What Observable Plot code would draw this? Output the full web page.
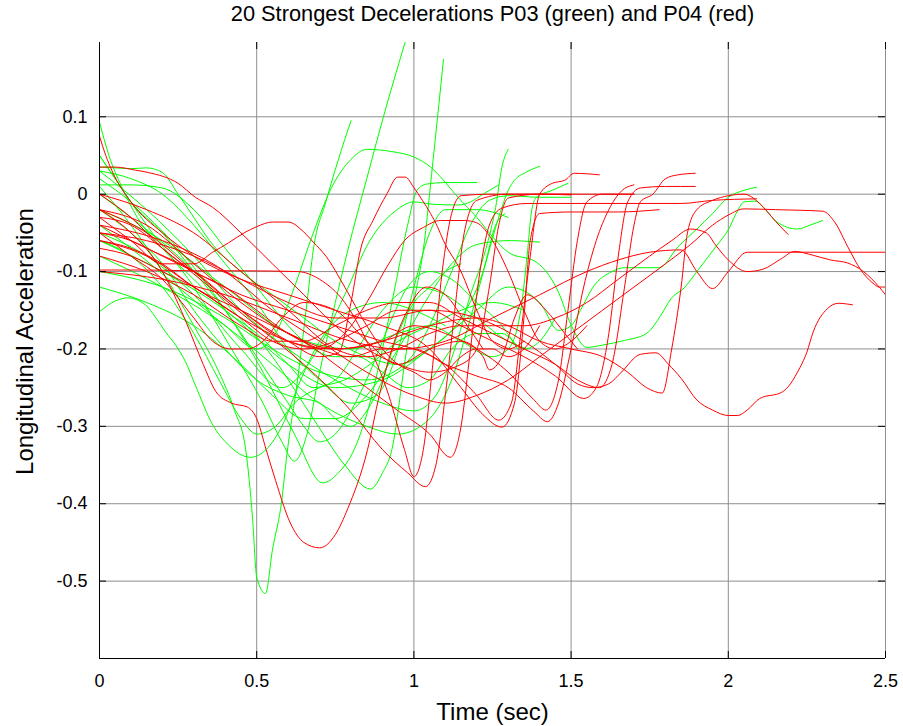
<!DOCTYPE html>
<html><head><meta charset="utf-8">
<script src="https://cdn.jsdelivr.net/npm/d3@7"></script>
<script src="https://cdn.jsdelivr.net/npm/@observablehq/plot@0.6"></script>
<style>body{margin:0;background:#fff}svg{display:block}</style>
</head><body><div id="chart"></div>
<script>
const title = "20 Strongest Decelerations P03 (green) and P04 (red)";
const xLabel = "Time (sec)";
const yLabel = "Longitudinal Acceleration";
const xTicks = [0, 0.5, 1, 1.5, 2, 2.5];
const yTicks = [0.1, 0, -0.1, -0.2, -0.3, -0.4, -0.5];
const xDomain = [0, 2.5];
const yDomain = [-0.6, 0.196];

// P03 (green) decelerations: [time, acceleration]
const g01 = [[0,0.01],[0.1,-0.04],[0.2,-0.1],[0.3,-0.17],[0.38,-0.23],[0.43,-0.28],[0.465,-0.33],[0.487,-0.42],[0.5,-0.495],[0.528,-0.516],[0.55,-0.46],[0.58,-0.395],[0.595,-0.34],[0.63,-0.24],[0.66,-0.14],[0.68,-0.072],[0.72,-0.01],[0.76,0.045],[0.8,0.095]];
const g02 = [[0,0.05],[0.05,0.02],[0.15,-0.04],[0.3,-0.12],[0.42,-0.2],[0.52,-0.27],[0.58,-0.32],[0.62,-0.345],[0.66,-0.31],[0.7,-0.23],[0.75,-0.14],[0.79,-0.072],[0.85,0.02],[0.91,0.11],[0.975,0.2],[0.99,0.22]];
const g03 = [[0,0.0],[0.1,-0.03],[0.25,-0.08],[0.4,-0.14],[0.55,-0.21],[0.68,-0.29],[0.78,-0.35],[0.862,-0.381],[0.9,-0.36],[0.93,-0.33],[0.97,-0.22],[1.0,-0.14],[1.03,-0.072],[1.06,0.04],[1.094,0.174]];
const g04 = [[0,-0.04],[0.1,-0.07],[0.25,-0.12],[0.4,-0.17],[0.5,-0.2],[0.56,-0.18],[0.62,-0.12],[0.68,-0.05],[0.74,0.01],[0.8,0.045],[0.85,0.058],[0.93,0.055],[1.0,0.048],[1.053,0.035],[1.094,0.018],[1.14,-0.004],[1.2,-0.03],[1.25,-0.055],[1.3,-0.075],[1.39,-0.088],[1.43,-0.105],[1.46,-0.127],[1.5,-0.169],[1.55,-0.198],[1.6,-0.195],[1.67,-0.189],[1.74,-0.18],[1.78,-0.16],[1.82,-0.134],[1.86,-0.121],[1.9,-0.1],[1.96,-0.068],[2.0,-0.046],[2.03,-0.021],[2.05,-0.01],[2.085,-0.009],[2.12,-0.021],[2.155,-0.036],[2.22,-0.045],[2.26,-0.04],[2.3,-0.034]];
const g05 = [[0,-0.06],[0.2,-0.1],[0.4,-0.15],[0.6,-0.22],[0.75,-0.25],[0.9,-0.24],[1.05,-0.2],[1.2,-0.15],[1.3,-0.12],[1.4,-0.14],[1.46,-0.176],[1.5,-0.17],[1.53,-0.15],[1.57,-0.12],[1.63,-0.1],[1.67,-0.095],[1.78,-0.095],[1.84,-0.068],[1.9,-0.045],[1.95,-0.025],[2.0,-0.004],[2.05,0.005],[2.09,0.009]];
const g06 = [[0,0.03],[0.15,-0.02],[0.3,-0.08],[0.45,-0.15],[0.6,-0.2],[0.75,-0.24],[0.9,-0.27],[1.0,-0.28],[1.07,-0.26],[1.13,-0.2],[1.18,-0.13],[1.228,-0.072],[1.26,-0.017],[1.28,0.035],[1.3,0.058]];
const g07 = [[0,-0.08],[0.2,-0.12],[0.4,-0.17],[0.55,-0.22],[0.7,-0.27],[0.85,-0.3],[0.95,-0.31],[1.05,-0.29],[1.12,-0.24],[1.18,-0.16],[1.24,-0.072],[1.26,-0.043],[1.28,-0.017],[1.3,0.005],[1.32,0.018],[1.355,0.028],[1.4,0.036]];
const g08 = [[0,-0.1],[0.2,-0.12],[0.4,-0.16],[0.55,-0.2],[0.7,-0.23],[0.85,-0.24],[0.97,-0.22],[1.05,-0.17],[1.12,-0.1],[1.18,-0.04],[1.24,-0.008],[1.3,-0.002],[1.4,-0.004],[1.5,-0.004]];
const g09 = [[0,-0.02],[0.2,-0.06],[0.4,-0.12],[0.6,-0.18],[0.8,-0.2],[0.95,-0.18],[1.05,-0.17],[1.15,-0.19],[1.25,-0.21],[1.3,-0.2],[1.34,-0.15],[1.36,-0.08],[1.375,-0.02],[1.39,-0.004],[1.44,0.005],[1.49,0.014]];
const g10 = [[0,0.02],[0.1,-0.01],[0.25,-0.07],[0.4,-0.15],[0.52,-0.23],[0.62,-0.31],[0.71,-0.373],[0.76,-0.36],[0.81,-0.33],[0.86,-0.27],[0.9,-0.2],[0.94,-0.12],[0.98,-0.04],[1.01,0.005],[1.04,0.013],[1.1,0.015],[1.2,0.015]];
const g11 = [[0,-0.05],[0.15,-0.08],[0.3,-0.13],[0.45,-0.2],[0.58,-0.25],[0.68,-0.21],[0.78,-0.13],[0.86,-0.06],[0.94,-0.022],[1.0,-0.01],[1.06,-0.013],[1.14,-0.014],[1.18,-0.01],[1.22,0.0],[1.27,0.012]];
const g12 = [[0,-0.12],[0.15,-0.14],[0.3,-0.17],[0.45,-0.22],[0.55,-0.26],[0.65,-0.29],[0.75,-0.29],[0.85,-0.26],[0.95,-0.2],[1.05,-0.13],[1.12,-0.09],[1.2,-0.065],[1.3,-0.06],[1.4,-0.062]];
const g13 = [[0,0.093],[0.03,0.05],[0.07,0.01],[0.12,-0.03],[0.2,-0.07],[0.3,-0.11],[0.4,-0.15],[0.5,-0.18],[0.6,-0.22],[0.68,-0.25],[0.75,-0.24],[0.82,-0.2],[0.9,-0.15],[1.0,-0.12],[1.1,-0.13],[1.2,-0.16],[1.3,-0.19],[1.36,-0.2]];
const g14 = [[0,-0.152],[0.05,-0.138],[0.09,-0.134],[0.146,-0.143],[0.178,-0.159],[0.21,-0.178],[0.242,-0.195],[0.274,-0.217],[0.305,-0.247],[0.36,-0.298],[0.41,-0.324],[0.48,-0.34],[0.53,-0.33],[0.58,-0.3],[0.64,-0.24],[0.7,-0.19],[0.8,-0.15],[0.9,-0.14],[1.0,-0.15],[1.1,-0.17]];
const g15 = [[0,0.03],[0.1,0.02],[0.2,0.0],[0.3,-0.04],[0.4,-0.09],[0.5,-0.14],[0.6,-0.2],[0.7,-0.24],[0.8,-0.27],[0.88,-0.26],[0.95,-0.2],[1.0,-0.12],[1.05,-0.05],[1.1,-0.02],[1.2,-0.02],[1.3,-0.03]];
const g16 = [[0,0.035],[0.05,0.034],[0.1,0.033],[0.15,0.034],[0.2,0.028],[0.25,0.0],[0.3,-0.03],[0.35,-0.06],[0.45,-0.1],[0.55,-0.13],[0.65,-0.16],[0.75,-0.19],[0.85,-0.21],[0.95,-0.22],[1.05,-0.2],[1.15,-0.16],[1.22,-0.1],[1.26,-0.04],[1.29,-0.025]];
const g17 = [[0,0.012],[0.1,0.012],[0.2,0.008],[0.3,-0.02],[0.4,-0.07],[0.5,-0.12],[0.6,-0.17],[0.68,-0.2],[0.75,-0.21],[0.82,-0.21],[0.9,-0.23],[0.98,-0.25],[1.05,-0.24],[1.12,-0.2],[1.2,-0.18],[1.28,-0.18],[1.35,-0.2],[1.4,-0.19],[1.45,-0.16]];
const g18 = [[0,-0.02],[0.1,-0.05],[0.2,-0.09],[0.3,-0.15],[0.4,-0.2],[0.5,-0.24],[0.6,-0.26],[0.7,-0.27],[0.75,-0.29],[0.8,-0.3],[0.85,-0.28],[0.9,-0.24],[0.95,-0.18],[1.0,-0.14],[1.05,-0.12],[1.1,-0.1],[1.15,-0.09]];
const g19 = [[0,-0.06],[0.1,-0.08],[0.2,-0.12],[0.3,-0.18],[0.38,-0.24],[0.45,-0.29],[0.5,-0.31],[0.56,-0.3],[0.62,-0.27],[0.7,-0.25],[0.78,-0.24],[0.86,-0.22],[0.95,-0.19],[1.05,-0.17],[1.15,-0.15],[1.25,-0.14],[1.35,-0.15]];
const g20 = [[0,0.05],[0.05,0.02],[0.1,-0.01],[0.2,-0.05],[0.3,-0.1],[0.4,-0.15],[0.5,-0.21],[0.6,-0.27],[0.65,-0.3],[0.7,-0.32],[0.75,-0.31],[0.8,-0.28],[0.86,-0.23],[0.92,-0.17],[0.98,-0.12],[1.05,-0.1],[1.12,-0.11],[1.2,-0.14],[1.28,-0.17],[1.33,-0.2]];

// P04 (red) decelerations: [time, acceleration]
const r01 = [[0,-0.02],[0.1,-0.05],[0.2,-0.1],[0.27,-0.16],[0.33,-0.22],[0.37,-0.255],[0.42,-0.27],[0.47,-0.275],[0.5,-0.29],[0.53,-0.33],[0.56,-0.37],[0.607,-0.425],[0.65,-0.45],[0.7,-0.457],[0.75,-0.44],[0.79,-0.406],[0.852,-0.331],[0.89,-0.26],[0.93,-0.2],[0.98,-0.15],[1.04,-0.12],[1.1,-0.13],[1.17,-0.17],[1.22,-0.2]];
const r02 = [[0,-0.098],[0.15,-0.098],[0.3,-0.099],[0.45,-0.099],[0.63,-0.1],[0.7,-0.11],[0.78,-0.14],[0.85,-0.19],[0.92,-0.26],[0.97,-0.33],[1.0,-0.365],[1.03,-0.33],[1.06,-0.22],[1.09,-0.1],[1.12,-0.025],[1.15,-0.002],[1.25,0.0],[1.4,0.0],[1.5,-0.001]];
const r03 = [[0,-0.03],[0.1,-0.04],[0.2,-0.07],[0.35,-0.12],[0.5,-0.17],[0.65,-0.22],[0.8,-0.28],[0.9,-0.33],[0.98,-0.36],[1.037,-0.378],[1.07,-0.35],[1.1,-0.26],[1.13,-0.15],[1.16,-0.05],[1.2,-0.008],[1.3,0.0],[1.45,0.0],[1.6,0.0],[1.7,0.0]];
const r04 = [[0,-0.06],[0.1,-0.07],[0.2,-0.09],[0.3,-0.12],[0.45,-0.15],[0.55,-0.17],[0.65,-0.19],[0.75,-0.22],[0.85,-0.25],[0.95,-0.28],[1.05,-0.31],[1.116,-0.34],[1.15,-0.3],[1.18,-0.2],[1.21,-0.1],[1.24,-0.04],[1.28,-0.018],[1.36,-0.012],[1.5,-0.012],[1.7,-0.012],[1.85,-0.012],[1.95,-0.008],[2.09,-0.006]];
const r05 = [[0,-0.05],[0.1,-0.06],[0.2,-0.08],[0.3,-0.1],[0.45,-0.13],[0.6,-0.15],[0.75,-0.17],[0.9,-0.19],[1.0,-0.2],[1.1,-0.22],[1.2,-0.26],[1.27,-0.292],[1.31,-0.27],[1.34,-0.18],[1.37,-0.08],[1.4,0.0],[1.44,0.014],[1.48,0.018],[1.51,0.027],[1.59,0.025]];
const r06 = [[0,0.075],[0.02,0.05],[0.04,0.03],[0.1,-0.01],[0.2,-0.05],[0.3,-0.08],[0.45,-0.11],[0.6,-0.13],[0.75,-0.15],[0.9,-0.17],[1.05,-0.2],[1.15,-0.25],[1.22,-0.285],[1.28,-0.301],[1.32,-0.27],[1.35,-0.16],[1.37,-0.06],[1.4,-0.025],[1.5,-0.023],[1.65,-0.023],[1.78,-0.02]];
const r07 = [[0,-0.04],[0.15,-0.07],[0.3,-0.1],[0.45,-0.15],[0.6,-0.19],[0.75,-0.2],[0.9,-0.19],[1.0,-0.17],[1.1,-0.18],[1.2,-0.2],[1.3,-0.23],[1.38,-0.265],[1.42,-0.279],[1.46,-0.24],[1.49,-0.15],[1.52,-0.06],[1.55,-0.01],[1.6,0.0],[1.7,0.0]];
const r08 = [[0,0.0],[0.1,-0.03],[0.2,-0.07],[0.3,-0.1],[0.4,-0.12],[0.5,-0.15],[0.6,-0.18],[0.7,-0.2],[0.8,-0.21],[0.9,-0.2],[1.0,-0.2],[1.1,-0.22],[1.2,-0.235],[1.3,-0.25],[1.38,-0.28],[1.425,-0.294],[1.46,-0.27],[1.5,-0.2],[1.54,-0.12],[1.58,-0.06],[1.62,-0.02],[1.66,0.004],[1.7,0.012]];
const r09 = [[0,-0.06],[0.15,-0.08],[0.3,-0.12],[0.45,-0.16],[0.55,-0.19],[0.65,-0.2],[0.75,-0.19],[0.85,-0.17],[0.95,-0.15],[1.05,-0.15],[1.15,-0.17],[1.25,-0.19],[1.35,-0.21],[1.45,-0.235],[1.54,-0.264],[1.58,-0.25],[1.62,-0.18],[1.65,-0.08],[1.68,-0.01],[1.72,0.008],[1.8,0.01],[1.895,0.01]];
const r10 = [[0,-0.08],[0.15,-0.1],[0.3,-0.13],[0.45,-0.17],[0.55,-0.19],[0.65,-0.19],[0.75,-0.17],[0.85,-0.15],[0.95,-0.14],[1.05,-0.14],[1.15,-0.16],[1.25,-0.18],[1.35,-0.2],[1.45,-0.22],[1.52,-0.24],[1.59,-0.25],[1.63,-0.22],[1.67,-0.12],[1.7,-0.04],[1.72,-0.01],[1.76,0.0],[1.8,0.02],[1.84,0.025],[1.895,0.027]];
const r11 = [[0,-0.02],[0.15,-0.04],[0.3,-0.09],[0.45,-0.14],[0.6,-0.18],[0.75,-0.2],[0.9,-0.19],[1.05,-0.17],[1.2,-0.16],[1.3,-0.17],[1.4,-0.19],[1.5,-0.2],[1.6,-0.21],[1.68,-0.23],[1.74,-0.25],[1.79,-0.257],[1.82,-0.2],[1.85,-0.12],[1.87,-0.05],[1.9,-0.02],[1.95,-0.008],[2.0,-0.002],[2.05,0.0],[2.1,-0.012],[2.15,-0.035],[2.19,-0.052]];
const r12 = [[0,-0.05],[0.15,-0.06],[0.3,-0.08],[0.45,-0.11],[0.6,-0.14],[0.75,-0.16],[0.9,-0.16],[1.05,-0.15],[1.2,-0.16],[1.35,-0.19],[1.45,-0.22],[1.52,-0.245],[1.57,-0.25],[1.62,-0.245],[1.66,-0.23],[1.72,-0.207],[1.77,-0.205],[1.81,-0.22],[1.85,-0.238],[1.9,-0.266],[1.95,-0.279],[2.0,-0.286],[2.03,-0.286],[2.06,-0.279],[2.1,-0.264],[2.17,-0.256],[2.19,-0.249],[2.22,-0.23],[2.25,-0.204],[2.27,-0.178],[2.315,-0.148],[2.35,-0.141],[2.395,-0.143]];
const r13 = [[0,-0.1],[0.2,-0.11],[0.4,-0.13],[0.6,-0.16],[0.8,-0.19],[0.95,-0.2],[1.1,-0.19],[1.25,-0.16],[1.4,-0.13],[1.55,-0.1],[1.65,-0.085],[1.75,-0.075],[1.85,-0.072],[1.9,-0.1],[1.95,-0.122],[2.0,-0.1],[2.06,-0.075],[2.2,-0.075],[2.35,-0.075],[2.5,-0.075]];
const r14 = [[0,0.0],[0.15,-0.02],[0.3,-0.05],[0.45,-0.1],[0.6,-0.15],[0.75,-0.2],[0.85,-0.21],[0.95,-0.2],[1.05,-0.18],[1.15,-0.17],[1.25,-0.17],[1.35,-0.17],[1.45,-0.16],[1.55,-0.14],[1.65,-0.11],[1.75,-0.08],[1.82,-0.06],[1.88,-0.045],[1.93,-0.05],[1.96,-0.066],[2.0,-0.085],[2.06,-0.1],[2.11,-0.097],[2.17,-0.083],[2.21,-0.074],[2.27,-0.079],[2.325,-0.085],[2.38,-0.089],[2.43,-0.1],[2.48,-0.12],[2.5,-0.13]];
const r15 = [[0,-0.04],[0.2,-0.06],[0.4,-0.1],[0.55,-0.15],[0.7,-0.19],[0.85,-0.23],[1.0,-0.26],[1.1,-0.27],[1.2,-0.26],[1.3,-0.24],[1.4,-0.21],[1.5,-0.18],[1.6,-0.15],[1.7,-0.12],[1.8,-0.09],[1.88,-0.065],[1.95,-0.04],[2.0,-0.027],[2.05,-0.019],[2.15,-0.02],[2.3,-0.022],[2.34,-0.037],[2.38,-0.068],[2.42,-0.097],[2.46,-0.115],[2.48,-0.12],[2.5,-0.12]];
const r16 = [[0,-0.02],[0.15,-0.05],[0.3,-0.1],[0.45,-0.15],[0.6,-0.19],[0.7,-0.21],[0.76,-0.205],[0.8,-0.14],[0.83,-0.072],[0.87,-0.034],[0.915,0.001],[0.948,0.022],[0.973,0.022],[0.999,0.009],[1.027,-0.008],[1.053,-0.025],[1.075,-0.042],[1.094,-0.06],[1.15,-0.1],[1.2,-0.15],[1.25,-0.19],[1.3,-0.2],[1.35,-0.19]];
const r17 = [[0,-0.03],[0.1,-0.06],[0.2,-0.09],[0.3,-0.09],[0.36,-0.075],[0.41,-0.063],[0.46,-0.05],[0.5,-0.042],[0.55,-0.036],[0.6,-0.036],[0.65,-0.049],[0.68,-0.062],[0.72,-0.08],[0.78,-0.12],[0.85,-0.17],[0.9,-0.2],[0.95,-0.22],[1.0,-0.23],[1.05,-0.24],[1.1,-0.23],[1.15,-0.21],[1.2,-0.2],[1.25,-0.2],[1.3,-0.21],[1.35,-0.2],[1.4,-0.17]];
const r18 = [[0,-0.07],[0.1,-0.08],[0.2,-0.1],[0.3,-0.12],[0.45,-0.16],[0.6,-0.19],[0.7,-0.2],[0.78,-0.18],[0.85,-0.14],[0.92,-0.09],[0.97,-0.06],[1.03,-0.043],[1.085,-0.034],[1.16,-0.034],[1.2,-0.037],[1.25,-0.06],[1.3,-0.1],[1.35,-0.15],[1.4,-0.19],[1.45,-0.2],[1.5,-0.19],[1.55,-0.17]];
const r19 = [[0,0.035],[0.05,0.035],[0.115,0.031],[0.155,0.028],[0.25,0.014],[0.305,-0.004],[0.36,-0.017],[0.45,-0.05],[0.55,-0.09],[0.65,-0.13],[0.75,-0.17],[0.85,-0.2],[0.95,-0.22],[1.05,-0.23],[1.15,-0.22],[1.2,-0.2],[1.24,-0.12],[1.27,-0.04],[1.3,-0.005],[1.4,0.0],[1.5,0.0]];
const r20 = [[0,-0.05],[0.1,-0.08],[0.2,-0.11],[0.3,-0.16],[0.36,-0.19],[0.42,-0.2],[0.47,-0.2],[0.52,-0.19],[0.58,-0.16],[0.65,-0.14],[0.75,-0.15],[0.85,-0.19],[0.95,-0.22],[1.05,-0.2],[1.15,-0.19],[1.22,-0.21],[1.24,-0.227],[1.28,-0.21],[1.32,-0.16],[1.36,-0.13],[1.42,-0.15],[1.48,-0.18],[1.52,-0.2]];

const p03 = [g01,g02,g03,g04,g05,g06,g07,g08,g09,g10,g11,g12,g13,g14,g15,g16,g17,g18,g19,g20];
const p04 = [r01,r02,r03,r04,r05,r06,r07,r08,r09,r10,r11,r12,r13,r14,r15,r16,r17,r18,r19,r20];
const toRows = (list, grp) => list.flatMap((s, i) => s.map(([t, a]) => ({t, a, id: grp + i})));
const greenRows = toRows(p03, "P03-");
const redRows = toRows(p04, "P04-");

const W = 903, H = 726, mL = 99, mR = 18, mT = 42, mB = 68;
const tickPx = 7;
const tx = tickPx * (xDomain[1] - xDomain[0]) / (W - mL - mR);
const ty = tickPx * (yDomain[1] - yDomain[0]) / (H - mT - mB);
const font = "'Liberation Sans', Arial, Helvetica, sans-serif";

const chart = Plot.plot({
  width: W, height: H,
  marginLeft: mL, marginRight: mR, marginTop: mT, marginBottom: mB,
  x: {domain: xDomain},
  y: {domain: yDomain},
  style: {fontFamily: font, fontSize: "17px", color: "#000", background: "#fff"},
  marks: [
    Plot.ruleX(xTicks, {x: d => d, stroke: "#8f8f8f", strokeWidth: 1}),
    Plot.ruleY(yTicks, {y: d => d, stroke: "#8f8f8f", strokeWidth: 1}),
    Plot.line(greenRows, {x: "t", y: "a", z: "id", stroke: "#00ff00", strokeWidth: 1, curve: "monotone-x", clip: true}),
    Plot.line(redRows, {x: "t", y: "a", z: "id", stroke: "#ff0000", strokeWidth: 1, curve: "monotone-x", clip: true}),
    Plot.ruleX([xDomain[0]], {stroke: "#000", strokeWidth: 1}),
    Plot.ruleY([yDomain[0]], {stroke: "#000", strokeWidth: 1}),
    Plot.ruleX(xTicks, {x: d => d, y1: yDomain[0], y2: yDomain[0] + ty, stroke: "#000"}),
    Plot.ruleX(xTicks, {x: d => d, y1: yDomain[1], y2: yDomain[1] - ty, stroke: "#000"}),
    Plot.ruleY(yTicks, {y: d => d, x1: xDomain[0], x2: xDomain[0] + tx, stroke: "#000"}),
    Plot.ruleY(yTicks, {y: d => d, x1: xDomain[1], x2: xDomain[1] - tx, stroke: "#000"}),
    Plot.axisX(xTicks, {tickSize: 0, tickPadding: 16, tickFormat: d => String(d), label: null, fontSize: 18}),
    Plot.axisY(yTicks, {tickSize: 0, tickPadding: 12, tickFormat: d => String(d), label: null, fontSize: 18}),
    Plot.text([xLabel], {text: d => d, frameAnchor: "bottom", lineAnchor: "middle", dy: 54, fontSize: 24}),
    Plot.text([yLabel], {text: d => d, frameAnchor: "left", textAnchor: "middle", lineAnchor: "middle", dx: -74, dy: -9, rotate: -90, fontSize: 24}),
    Plot.text([title], {text: d => d, frameAnchor: "top", lineAnchor: "middle", dy: -28, fontSize: 21.8})
  ]
});
document.getElementById("chart").appendChild(chart);
</script>
</body></html>
